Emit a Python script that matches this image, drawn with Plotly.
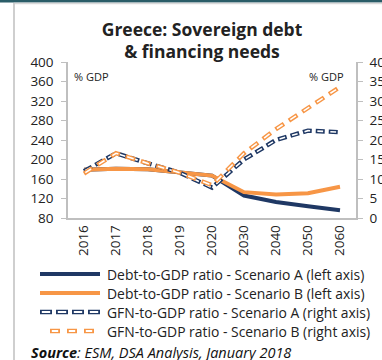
import plotly.graph_objects as go

# Years on the category axis
years = ["2016", "2017", "2018", "2019", "2020", "2030", "2040", "2050", "2060"]

# Debt-to-GDP ratio (% GDP, left axis)
debt_a = [179, 181, 180, 174, 167, 126, 113, 104, 96]
debt_b = [179, 181, 180, 174, 167, 133, 128, 131, 144]

# Gross financing needs to GDP (% GDP, right axis)
gfn_a = [12.0, 16.6, 14.0, 11.6, 7.8, 15.0, 20.0, 22.4, 22.0]
gfn_b = [11.4, 16.6, 14.0, 11.6, 8.4, 16.6, 22.8, 28.2, 33.6]

left_ticks = [80, 120, 160, 200, 240, 280, 320, 360, 400]
right_ticks = [0, 5, 10, 15, 20, 25, 30, 35, 40]

series_names = [
    "Debt-to-GDP ratio - Scenario A (left axis)",
    "Debt-to-GDP ratio - Scenario B (left axis)",
    "GFN-to-GDP ratio - Scenario A (right axis)",
    "GFN-to-GDP ratio - Scenario B (right axis)",
]

NAVY = "#1f3864"
ORANGE = "#f79646"
AXIS = "#bfbfbf"
FONT = "Open Sans"

W, H = 382, 360
L, R, T, B = 68, 26, 62, 142
PW, PH = W - L - R, H - T - B


def px(x):
    return (x - L) / PW


def py(y):
    return (H - B - y) / PH


# Line styles: (colour, outer dash, inner white dash or None)
styles = [
    (NAVY, "solid", None),
    (ORANGE, "solid", None),
    (NAVY, "9px,4px", "0px,1.6px,5.8px,5.6px"),
    (ORANGE, "10px,6px", "0px,1.6px,6.8px,7.6px"),
]
data = [(debt_a, "y"), (debt_b, "y"), (gfn_a, "y2"), (gfn_b, "y2")]

fig = go.Figure()
for (vals, ax), name, (col, outer, inner) in zip(data, series_names, styles):
    fig.add_trace(go.Scatter(x=years, y=vals, mode="lines", yaxis=ax, name=name,
                             line=dict(color=col, width=4.4 if inner else 4,
                                       dash=outer)))
    if inner:
        # white core turns each dash into a hollow capsule
        fig.add_trace(go.Scatter(x=years, y=vals, mode="lines", yaxis=ax,
                                 showlegend=False, hoverinfo="skip",
                                 line=dict(color="white", width=1.6, dash=inner)))

tick_font = dict(family=FONT, size=13.5, color="#222")

fig.update_layout(
    width=W, height=H,
    margin=dict(l=L, r=R, t=T, b=B, pad=0),
    paper_bgcolor="white", plot_bgcolor="white",
    font=dict(family=FONT, color="#222"),
    showlegend=False,
    title=dict(text="<b>Greece: Sovereign debt<br>& financing needs</b>",
               xref="container", x=202 / W, xanchor="center",
               yref="container", y=1 - 35.5 / H, yanchor="middle",
               font=dict(family=FONT, size=17.5, color="#222")),
    xaxis=dict(type="category", tickangle=-90, showgrid=False,
               showline=True, linecolor=AXIS, linewidth=1.5,
               ticks="", tickfont=tick_font, automargin=False,
               range=[-0.5, 8.5]),
    yaxis=dict(range=[80, 400], tickvals=left_ticks, showgrid=False,
               showline=True, linecolor=AXIS, linewidth=1.5,
               ticks="outside", ticklen=5, tickcolor=AXIS,
               ticklabelstandoff=5,
               tickfont=tick_font, automargin=False, zeroline=False),
    yaxis2=dict(range=[0, 40], tickvals=right_ticks, overlaying="y",
                side="right", showgrid=False,
                showline=True, linecolor=AXIS, linewidth=1.5,
                ticks="outside", ticklen=5, tickcolor=AXIS,
                ticklabelstandoff=4,
                tickfont=tick_font, automargin=False, zeroline=False),
)

fig.add_annotation(text="% GDP", x=px(72), y=py(76), xref="paper", yref="paper",
                   xanchor="left", yanchor="middle", showarrow=False,
                   font=dict(family=FONT, size=11, color="#222"))
fig.add_annotation(text="% GDP", x=px(346), y=py(76), xref="paper", yref="paper",
                   xanchor="right", yanchor="middle", showarrow=False,
                   font=dict(family=FONT, size=11, color="#222"))

# Legend rows below the axes
legend_rows = [274, 293, 312, 331]
legend_spans = [(40, 100), (40, 100), (40, 100), (50, 97)]
legend_dash = [
    (NAVY, "solid", None),
    (ORANGE, "solid", None),
    (NAVY, "12px,4px", "0px,1.8px,8.4px,5.8px"),
    (ORANGE, "10px,7px", "0px,1.8px,6.4px,8.8px"),
]
for yrow, (x0, x1), (col, outer, inner), name in zip(legend_rows, legend_spans,
                                                     legend_dash, series_names):
    fig.add_shape(type="line", xref="paper", yref="paper",
                  x0=px(x0), x1=px(x1), y0=py(yrow), y1=py(yrow),
                  line=dict(color=col, width=4.4 if inner else 4, dash=outer))
    if inner:
        fig.add_shape(type="line", xref="paper", yref="paper",
                      x0=px(x0), x1=px(x1), y0=py(yrow), y1=py(yrow),
                      line=dict(color="white", width=1.8, dash=inner))
    fig.add_annotation(text=name, x=px(105), y=py(yrow), xref="paper", yref="paper",
                       xanchor="left", yanchor="middle", showarrow=False,
                       font=dict(family=FONT, size=13.9, color="#222"))

fig.add_annotation(text="<b><i>Source</i></b><i>: ESM, DSA Analysis, January 2018</i>",
                   x=px(29), y=py(352), xref="paper", yref="paper",
                   xanchor="left", yanchor="middle", showarrow=False,
                   font=dict(family=FONT, size=14.5, color="#111"))

# Frame of the chart box
fig.add_shape(type="rect", xref="paper", yref="paper",
              x0=px(-5), x1=px(W + 5), y0=py(2.5), y1=py(-5),
              fillcolor="#2a5d68", line=dict(width=0), layer="above")
fig.add_shape(type="line", xref="paper", yref="paper",
              x0=px(14), x1=px(W + 5), y0=py(3.5), y1=py(3.5),
              line=dict(color="#d9d9d9", width=1.5), layer="above")
fig.add_shape(type="line", xref="paper", yref="paper",
              x0=px(14), x1=px(14), y0=py(3), y1=py(H + 5),
              line=dict(color="#cfcfcf", width=2), layer="above")

fig.write_html("out.html")
